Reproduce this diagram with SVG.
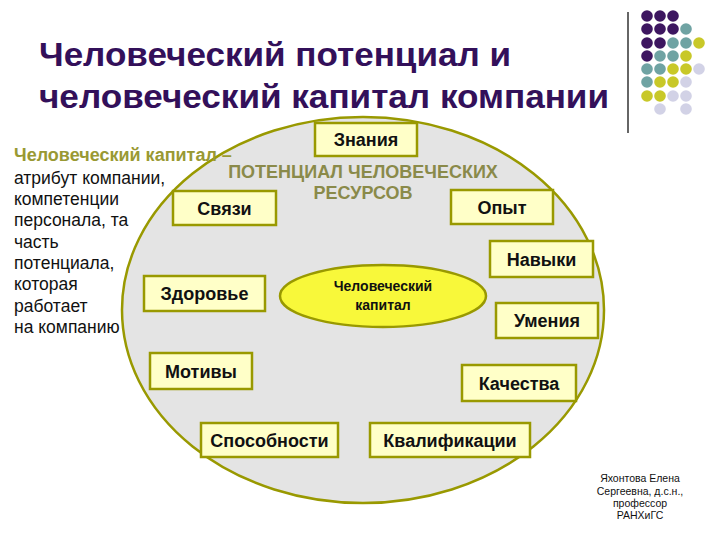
<svg xmlns="http://www.w3.org/2000/svg" width="720" height="540" viewBox="0 0 720 540">
<style>
text{font-family:"Liberation Sans",Arial,sans-serif}
.title{font-size:33px;font-weight:bold;fill:#33105a}
.box{fill:#ffffc8;stroke:#999900;stroke-width:2.5}
.bt{font-size:18px;font-weight:bold;fill:#111;text-anchor:middle}
.lt{font-size:17.5px;fill:#111}
.pc{font-size:18px;font-weight:bold;fill:#8a8a4a;text-anchor:middle}
.ft{font-size:10.5px;fill:#111;text-anchor:middle}
.p{fill:#3d1660}.t{fill:#6fa3a3}.y{fill:#c8c828}.l{fill:#d2d2e6}
</style>
<g id="decor">
<line x1="628" y1="12" x2="628" y2="133" stroke="#333" stroke-width="1.5"/>
<circle class="p" cx="647" cy="16" r="5.8"/><circle class="p" cx="660" cy="16" r="5.8"/><circle class="p" cx="673" cy="16" r="5.8"/>
<circle class="p" cx="647" cy="29" r="5.8"/><circle class="p" cx="660" cy="29" r="5.8"/><circle class="p" cx="673" cy="29" r="5.8"/><circle class="t" cx="686" cy="29" r="5.8"/>
<circle class="p" cx="647" cy="43" r="5.8"/><circle class="p" cx="660" cy="43" r="5.8"/><circle class="t" cx="673" cy="43" r="5.8"/><circle class="t" cx="686" cy="43" r="5.8"/><circle class="y" cx="699" cy="43" r="5.8"/>
<circle class="p" cx="647" cy="56" r="5.8"/><circle class="t" cx="660" cy="56" r="5.8"/><circle class="t" cx="673" cy="56" r="5.8"/><circle class="y" cx="686" cy="56" r="5.8"/>
<circle class="t" cx="647" cy="69" r="5.8"/><circle class="t" cx="660" cy="69" r="5.8"/><circle class="y" cx="673" cy="69" r="5.8"/><circle class="y" cx="686" cy="69" r="5.8"/><circle class="l" cx="699" cy="69" r="5.8"/>
<circle class="t" cx="647" cy="82" r="5.8"/><circle class="y" cx="660" cy="82" r="5.8"/><circle class="y" cx="673" cy="82" r="5.8"/><circle class="l" cx="686" cy="82" r="5.8"/>
<circle class="y" cx="647" cy="96" r="5.8"/><circle class="y" cx="660" cy="96" r="5.8"/><circle class="l" cx="673" cy="96" r="5.8"/><circle class="l" cx="686" cy="96" r="5.8"/>
<circle class="l" cx="660" cy="109" r="5.8"/><circle class="l" cx="686" cy="109" r="5.8"/>
</g>
<g id="title">
<text class="title" x="39" y="66" textLength="472" lengthAdjust="spacingAndGlyphs">Человеческий потенциал и</text>
<text class="title" x="39" y="108" textLength="570" lengthAdjust="spacingAndGlyphs">человеческий капитал компании</text>
</g>
<g id="potential">
<ellipse cx="363" cy="310" rx="241" ry="193" fill="#e4e4e4" stroke="#999900" stroke-width="2.5"/>
<text class="pc" x="363" y="178">ПОТЕНЦИАЛ ЧЕЛОВЕЧЕСКИХ</text>
<text class="pc" x="363" y="199">РЕСУРСОВ</text>
</g>
<g id="connectors"></g>
<g id="n-znaniya"><rect class="box" x="315" y="123" width="102" height="33"/><text class="bt" x="366" y="146">Знания</text></g>
<g id="n-svyazi"><rect class="box" x="173" y="191" width="103" height="34"/><text class="bt" x="224.5" y="214.5">Связи</text></g>
<g id="n-opyt"><rect class="box" x="451" y="190" width="102" height="34"/><text class="bt" x="502" y="213.5">Опыт</text></g>
<g id="n-navyki"><rect class="box" x="490" y="241" width="103" height="36"/><text class="bt" x="541.5" y="265.5">Навыки</text></g>
<g id="n-zdorovie"><rect class="box" x="144" y="276" width="121" height="35"/><text class="bt" x="204.5" y="300">Здоровье</text></g>
<g id="n-umeniya"><rect class="box" x="496" y="303" width="102" height="35"/><text class="bt" x="547" y="327">Умения</text></g>
<g id="n-motivy"><rect class="box" x="150" y="353" width="102" height="36"/><text class="bt" x="201" y="377.5">Мотивы</text></g>
<g id="n-kachestva"><rect class="box" x="462" y="365" width="114" height="36"/><text class="bt" x="519" y="389.5">Качества</text></g>
<g id="n-sposobnosti"><rect class="box" x="201" y="423" width="137" height="34"/><text class="bt" x="269.5" y="446.5">Способности</text></g>
<g id="n-kvalifikacii"><rect class="box" x="370" y="423" width="160" height="34"/><text class="bt" x="450" y="446.5">Квалификации</text></g>
<g id="n-capital">
<ellipse cx="383" cy="296" rx="103" ry="31" fill="#f8f83a" stroke="#999900" stroke-width="2.5"/>
<text x="383" y="291" font-size="14" font-weight="bold" fill="#111" text-anchor="middle">Человеческий</text>
<text x="383" y="310" font-size="14" font-weight="bold" fill="#111" text-anchor="middle">капитал</text>
</g>
<g id="definition">
<text x="14" y="161" font-size="18px" font-weight="bold" fill="#999933">Человеческий капитал –</text>
<text class="lt" x="14" y="184">атрибут компании,</text>
<text class="lt" x="14" y="205">компетенции</text>
<text class="lt" x="14" y="226">персонала, та</text>
<text class="lt" x="14" y="248">часть</text>
<text class="lt" x="14" y="269">потенциала,</text>
<text class="lt" x="14" y="290">которая</text>
<text class="lt" x="14" y="312">работает</text>
<text class="lt" x="14" y="333">на компанию</text>
</g>
<g id="author">
<text class="ft" x="640" y="482">Яхонтова Елена</text>
<text class="ft" x="640" y="495">Сергеевна, д.с.н.,</text>
<text class="ft" x="640" y="507">профессор</text>
<text class="ft" x="640" y="519">РАНХиГС</text>
</g>
</svg>
